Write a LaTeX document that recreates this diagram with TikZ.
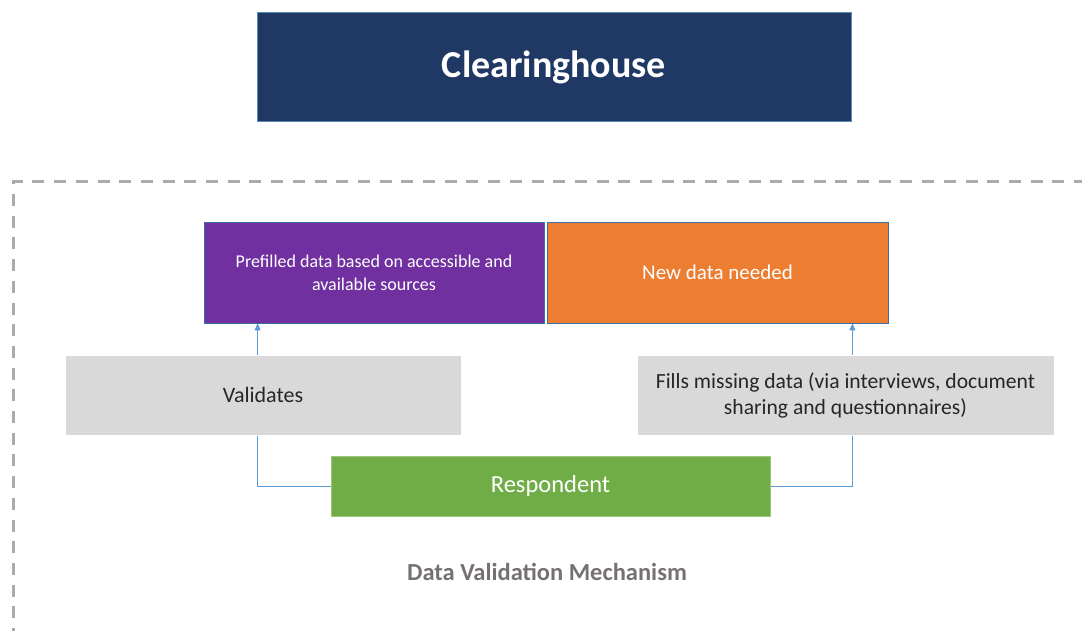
\documentclass[tikz,border=0pt]{standalone}
\usepackage{fontspec}
\setmainfont{Carlito}
\usetikzlibrary{backgrounds,arrows.meta}
\definecolor{navy}{HTML}{203864}
\definecolor{navyborder}{HTML}{5B89B8}
\definecolor{purp}{HTML}{7030A0}
\definecolor{orng}{HTML}{ED7D31}
\definecolor{boxborder}{HTML}{3A6EA5}
\definecolor{lgray}{HTML}{D9D9D9}
\definecolor{grn}{HTML}{70AD47}
\definecolor{conncol}{HTML}{5B9BD5}
\definecolor{framecol}{HTML}{ABABAB}
\definecolor{titlegray}{HTML}{767171}
\definecolor{darktext}{HTML}{262626}
\tikzset{
  box/.style={rectangle, inner sep=4pt, align=center, anchor=center},
  topbox/.style={box, fill=navy, draw=navyborder, line width=1pt, text=white, font=\fontsize{38}{44}\selectfont\bfseries},
  catbox/.style={box, draw=boxborder, line width=0.8pt, text=white},
  graybox/.style={box, fill=lgray, draw=white, line width=0.6pt, text=darktext, font=\fontsize{22}{26}\selectfont},
  greenbox/.style={box, fill=grn, draw=grn!70!white, line width=0.6pt, text=white, font=\fontsize{24.5}{28}\selectfont},
  conn/.style={draw=conncol, line width=0.9pt, -{Triangle[length=7pt,width=6pt]}},
  frame/.style={draw=framecol, line width=3pt, dash pattern=on 12pt off 9.7pt},
}
\begin{document}
\begin{tikzpicture}[x=1pt,y=-1pt]
\useasboundingbox (0,0) rectangle (1082,631);
\draw[frame] (13,640) -- (13,182) -- (1090,182);
\node[topbox, minimum width=594pt, minimum height=109pt] (ch) at (554,67.5) {Clearinghouse};
\node[catbox, fill=purp, minimum width=340pt, minimum height=101pt, font=\fontsize{18}{23}\selectfont] (pre) at (374,272.5) {Prefilled data based on accessible and\\available sources};
\node[catbox, fill=orng, minimum width=341pt, minimum height=101pt, font=\fontsize{21}{24}\selectfont] (new) at (717.5,272.5) {New data needed};
\node[graybox, minimum width=396pt, minimum height=80pt] (val) at (263,395) {Validates};
\node[graybox, minimum width=417pt, minimum height=80pt, font=\fontsize{21.6}{26}\selectfont] (fill) at (845.5,395) {Fills missing data (via interviews, document\\sharing and questionnaires)};
\node[greenbox, minimum width=439pt, minimum height=60pt] (resp) at (550.5,486) {Respondent};
\node[text=titlegray, font=\fontsize{24.5}{28}\selectfont\bfseries] (title) at (547,572) {Data Validation Mechanism};
\coordinate (pa) at ([xshift=54pt]pre.south west);
\coordinate (na) at ([xshift=-36pt]new.south east);
\begin{scope}[on background layer]
\draw[conn] (resp.west) -| (pa);
\draw[conn] (resp.east) -| (na);
\end{scope}
\end{tikzpicture}
\end{document}
